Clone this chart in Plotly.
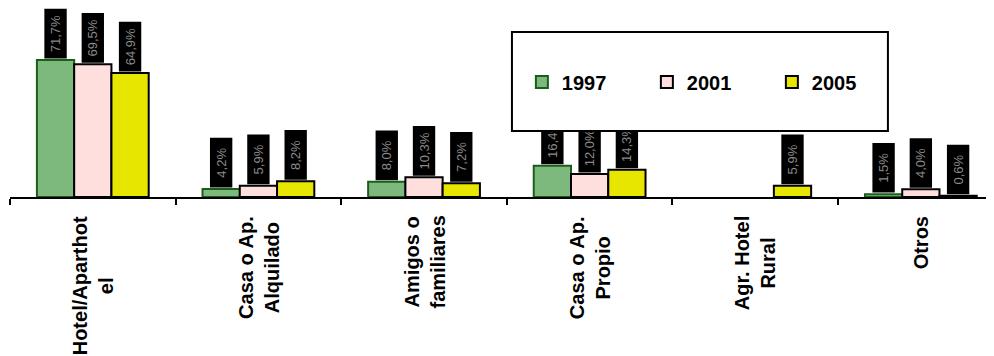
import plotly.graph_objects as go

categories = ["Hotel/Aparthotel", "Casa o Ap. Alquilado", "Amigos o familiares",
              "Casa o Ap. Propio", "Agr. Hotel Rural", "Otros"]
tick_labels = ["Hotel/Aparthot<br>el", "Casa o Ap.<br>Alquilado", "Amigos o<br>familiares",
               "Casa o Ap.<br>Propio", "Agr. Hotel<br>Rural", "Otros"]
years = ["1997", "2001", "2005"]
v1997 = [71.7, 4.2, 8.0, 16.4, None, 1.5]
v2001 = [69.5, 5.9, 10.3, 12.0, None, 4.0]
v2005 = [64.9, 8.2, 7.2, 14.3, 5.9, 0.6]
series = [v1997, v2001, v2005]

fills = ["#7db87d", "#ffdede", "#e6e600"]
edges = ["#1a5e1a", "#000000", "#000000"]
FONT = "Liberation Sans, Arial, sans-serif"
LABEL_H = 26      # height of the black label boxes (axis units)
LABEL_W = 0.135   # width of the black label boxes (category units)

def fmt(v):
    return f"{v:.1f}%".replace(".", ",")

fig = go.Figure()
for i, (yr, vals) in enumerate(zip(years, series)):
    fig.add_trace(go.Bar(
        x=categories, y=vals, name=yr, offsetgroup=str(i),
        marker=dict(color=fills[i], line=dict(color=edges[i], width=2)),
    ))
for i, vals in enumerate(series):
    fig.add_trace(go.Bar(
        x=categories,
        y=[LABEL_H if v else None for v in vals],
        base=[(v + 0.8) if v else None for v in vals],
        offsetgroup=str(i), width=LABEL_W, showlegend=False,
        marker=dict(color="black", line=dict(width=0)),
        text=[fmt(v) if v else "" for v in vals],
        textposition="inside", insidetextanchor="middle", textangle=-90,
        textfont=dict(family=FONT, size=13, color="#8a8a8a"),
        hoverinfo="skip",
    ))

for c, lab in zip(categories, tick_labels):
    fig.add_annotation(
        x=c, y=0, xref="x", yref="y", yanchor="top", xanchor="center",
        yshift=-17, textangle=-90, showarrow=False, align="center", text=lab,
        font=dict(family=FONT, size=20, color="black", weight="bold"),
    )

# legend frame
fig.add_shape(type="rect", xref="paper", yref="paper",
              x0=0.506, x1=0.885, y0=0.349, y1=0.873, layer="above",
              fillcolor="white", line=dict(color="black", width=2))

fig.update_layout(
    width=994, height=356,
    margin=dict(l=2, r=0, t=0, b=167),
    paper_bgcolor="white", plot_bgcolor="white",
    barmode="group", bargap=0.325, bargroupgap=0,
    showlegend=True,
    legend=dict(orientation="h", x=0.516, xanchor="left", y=0.608, yanchor="middle",
                bgcolor="rgba(0,0,0,0)", borderwidth=0,
                entrywidth=80, entrywidthmode="pixels",
                font=dict(family=FONT, size=20, color="black", weight="bold")),
    xaxis=dict(type="category", range=[-0.5, 5.49], showline=True, linecolor="black",
               linewidth=2, ticks="outside", tickson="boundaries", ticklen=6,
               tickcolor="black", tickwidth=2, showticklabels=False, showgrid=False,
               zeroline=False),
    yaxis=dict(range=[0, 98.9], visible=False, showgrid=False, zeroline=False),
)

fig.write_html("out.html")
